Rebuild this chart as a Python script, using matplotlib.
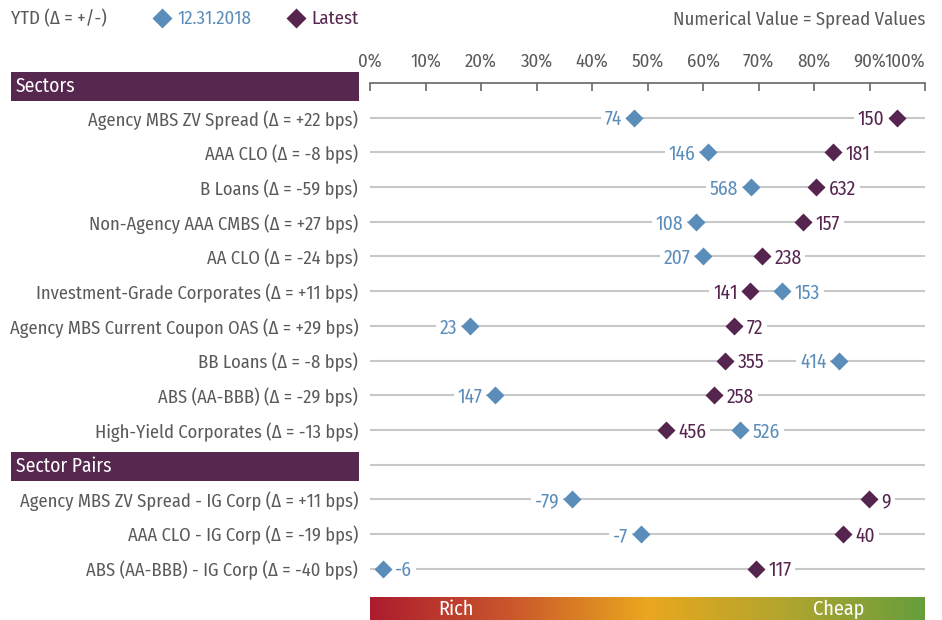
import matplotlib as mpl
mpl.use('Agg')
import matplotlib.pyplot as plt
import matplotlib.transforms as mtransforms
from matplotlib.colors import LinearSegmentedColormap
from matplotlib.lines import Line2D
from matplotlib.patches import Rectangle
import numpy as np

plt.rcParams['font.family'] = ['Fira Sans Condensed', 'DejaVu Sans']

# data: percentile (0-100) of spread, plus spread values shown as labels
sectors = ['Agency MBS ZV Spread (Δ = +22 bps)', 'AAA CLO (Δ = -8 bps)',
           'B Loans (Δ = -59 bps)', 'Non-Agency AAA CMBS (Δ = +27 bps)',
           'AA CLO (Δ = -24 bps)', 'Investment-Grade Corporates (Δ = +11 bps)',
           'Agency MBS Current Coupon OAS (Δ = +29 bps)', 'BB Loans (Δ = -8 bps)',
           'ABS (AA-BBB) (Δ = -29 bps)', 'High-Yield Corporates (Δ = -13 bps)']
pairs = ['Agency MBS ZV Spread - IG Corp (Δ = +11 bps)',
         'AAA CLO - IG Corp (Δ = -19 bps)',
         'ABS (AA-BBB) - IG Corp (Δ = -40 bps)']

pct_2018 = [47.6, 60.9, 68.6, 58.7, 60.0, 74.2, 18.0, 84.5, 22.5, 66.7,
            36.4, 48.8, 2.3]
pct_latest = [95.0, 83.4, 80.4, 78.0, 70.6, 68.5, 65.6, 64.0, 62.0, 53.3,
              89.9, 85.2, 69.5]
val_2018 = [74, 146, 568, 108, 207, 153, 23, 414, 147, 526, -79, -7, -6]
val_latest = [150, 181, 632, 157, 238, 141, 72, 355, 258, 456, 9, 40, 117]

# which side each value label sits on (-1 left, +1 right)
side_2018 = [-1, -1, -1, -1, -1, 1, -1, -1, -1, 1, -1, -1, 1]
side_latest = [-1, 1, 1, 1, 1, -1, 1, 1, 1, 1, 1, 1, 1]

blue = '#5b8dbb'
purple = '#55254f'
gray = '#5a5a5a'
line_gray = '#c8c8c8'

W, H = 942, 620
fig = plt.figure(figsize=(W/100, H/100), dpi=100)

x0, x1 = 370, 925
ytop, ybot = 83, 586
ax = fig.add_axes([x0/W, 1-ybot/H, (x1-x0)/W, (ybot-ytop)/H])

rows = list(range(len(sectors))) + [len(sectors)+1+i for i in range(len(pairs))]
pair_header = len(sectors)
ax.set_xlim(0, 100)
ax.set_ylim(13.5, -1.0)

for r in rows + [pair_header]:
    ax.axhline(r, color=line_gray, lw=1.5, zorder=1)

ax.plot(pct_2018, rows, 'D', color=blue, ms=9.5, mec='none', zorder=3)
ax.plot(pct_latest, rows, 'D', color=purple, ms=9.5, mec='none', zorder=3)

def label(xs, ys, vals, sides, clr):
    for x, y, v, s in zip(xs, ys, vals, sides):
        ax.annotate(str(v), (x, y), xytext=(9*s, -1.5), textcoords='offset points',
                    ha='left' if s > 0 else 'right', va='center',
                    color=clr, fontsize=14, zorder=2,
                    bbox=dict(boxstyle='square,pad=0.2', fc='white', ec='none'))

label(pct_2018, rows, val_2018, side_2018, blue)
label(pct_latest, rows, val_latest, side_latest, purple)

# axis on top
for s in ['left', 'right', 'bottom']:
    ax.spines[s].set_visible(False)
ax.spines['top'].set_color('#666666')
ax.spines['top'].set_linewidth(1.2)
ax.xaxis.tick_top()
ax.set_xticks(np.arange(0, 101, 10))
ax.set_xticklabels(['{}%'.format(t) for t in range(0, 101, 10)])
ax.tick_params(axis='x', direction='in', length=6, width=1.2, color='#666666',
               labelcolor=gray, labelsize=13.5, pad=9)
ax.get_xticklabels()[-1].set_horizontalalignment('right')
ax.set_yticks(rows)
ax.set_yticklabels(sectors + pairs)
ax.tick_params(axis='y', length=0, labelcolor=gray, labelsize=13.3, pad=8.5)

# section headers
trans = mtransforms.blended_transform_factory(fig.transFigure, ax.transData)
for r, name in [(-0.9, 'Sectors'), (pair_header + 0.05, 'Sector Pairs')]:
    ax.add_patch(Rectangle((11/W, r-0.42), (359-11)/W, 0.84, transform=trans,
                           fc='#57284f', ec='none', clip_on=False))
    ax.text(16/W, r, name, transform=trans, color='white', fontsize=14,
            va='center', ha='left')

# legend line at the top
fig.text(11/W, 1-19/H, 'YTD (Δ = +/-)', color=gray, fontsize=13.5, va='center')
fig.add_artist(Line2D([162/W], [1-18/H], marker='D', ms=10, color=blue,
                      mec='none', transform=fig.transFigure))
fig.text(177/W, 1-19/H, '12.31.2018', color=blue, fontsize=13.5, va='center')
fig.add_artist(Line2D([296/W], [1-18/H], marker='D', ms=10, color=purple,
                      mec='none', transform=fig.transFigure))
fig.text(311/W, 1-19/H, 'Latest', color=purple, fontsize=13.5, va='center')
fig.text(925/W, 1-19/H, 'Numerical Value = Spread Values', color=gray,
         fontsize=13.5, va='center', ha='right')

# rich / cheap gradient bar
cax = fig.add_axes([x0/W, 0, (x1-x0)/W, 23/H])
cmap = LinearSegmentedColormap.from_list('rc', [
    (0.0, '#ad1c2f'), (0.25, '#c9562c'), (0.5, '#eaa71e'),
    (0.75, '#b1a52f'), (1.0, '#679e3c')])
cax.imshow(np.linspace(0, 1, 256)[None, :], cmap=cmap, aspect='auto',
           extent=(0, 100, 0, 1))
cax.set_axis_off()
cax.text(15.5, 0.45, 'Rich', color='white', fontsize=14.5, ha='center', va='center')
cax.text(84.5, 0.45, 'Cheap', color='white', fontsize=14.5, ha='center', va='center')

plt.savefig('out.png', dpi=100)
